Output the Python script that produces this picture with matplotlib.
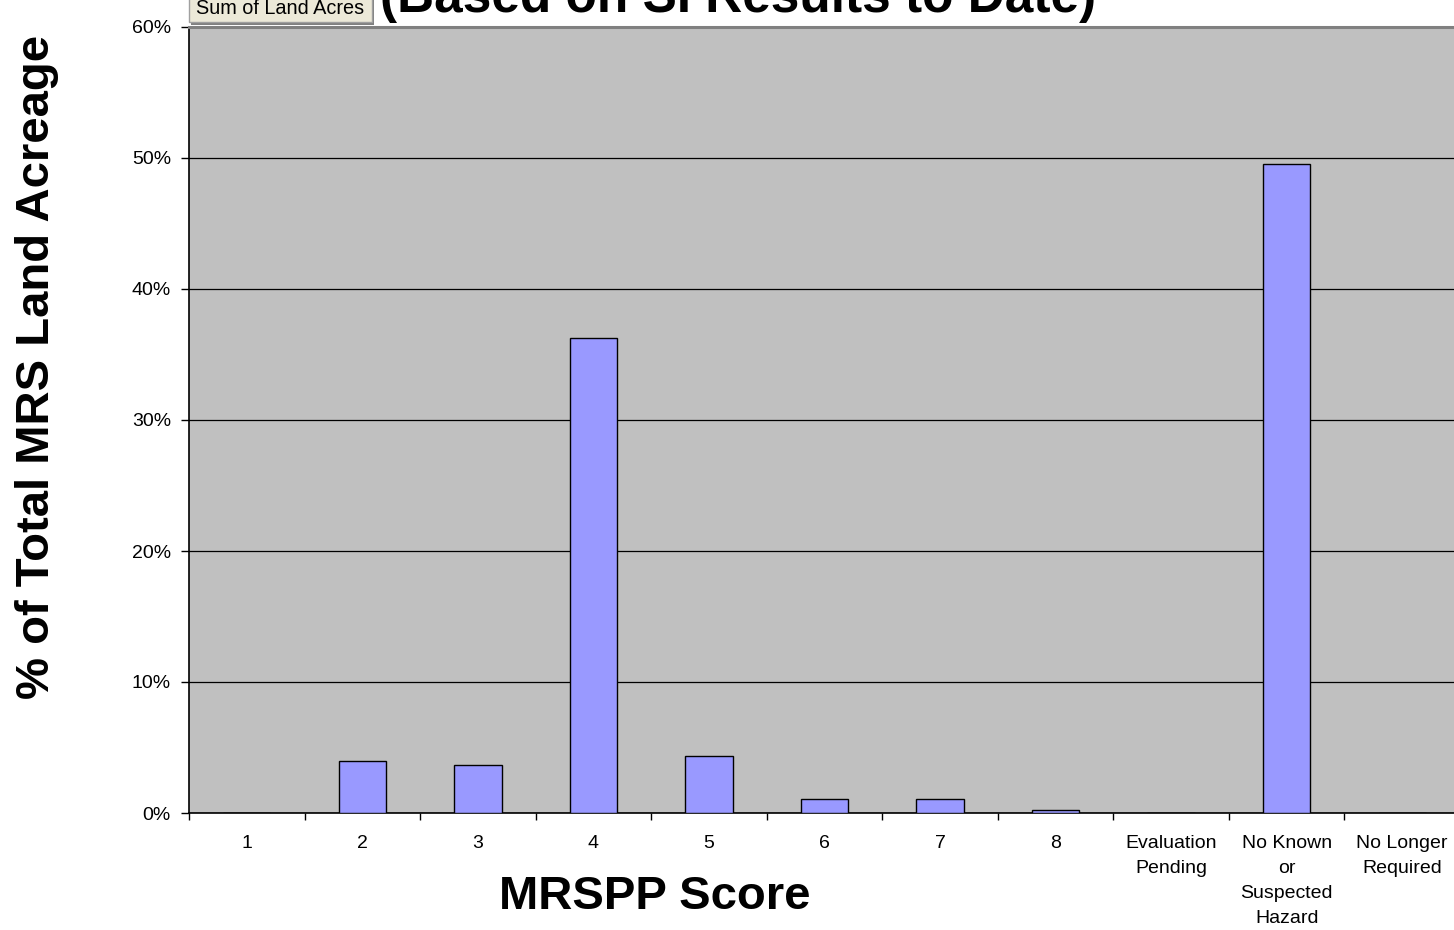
import matplotlib
matplotlib.use('Agg')
import matplotlib.pyplot as plt
from matplotlib.patches import Rectangle
from matplotlib.ticker import FixedLocator, FuncFormatter

plt.rcParams['font.family'] = ['Liberation Sans', 'DejaVu Sans']

# data
categories = ['1', '2', '3', '4', '5', '6', '7', '8',
              'Evaluation\nPending', 'No Known\nor\nSuspected\nHazard',
              'No Longer\nRequired']
pct_acreage = [0.0, 3.95, 3.65, 36.25, 4.35, 1.1, 1.1, 0.2, 0.0, 49.55, 0.0]
yticks = [0, 10, 20, 30, 40, 50, 60]

W, H = 1454, 930
fig = plt.figure(figsize=(W / 100, H / 100), dpi=100)
fig.patch.set_facecolor('white')

# plot area runs past the right edge of the picture, like the source
x0, x1, y0, y1 = 189, 1460, 27, 813
ax = fig.add_axes([x0 / W, 1 - y1 / H, (x1 - x0) / W, (y1 - y0) / H])
ax.set_facecolor('#C0C0C0')

pos = list(range(len(categories)))
ax.bar(pos, pct_acreage, width=0.41, color='#9999FF', edgecolor='black',
       linewidth=1.0, zorder=3)

ax.set_xlim(-0.5, len(categories) - 0.5)
ax.set_ylim(0, 60)

ax.yaxis.set_major_locator(FixedLocator(yticks))
ax.yaxis.set_major_formatter(FuncFormatter(lambda v, p: f'{v:.0f}%'))
ax.tick_params(axis='y', direction='out', length=6, width=1, pad=7,
               labelsize=14)
ax.grid(axis='y', color='black', linewidth=0.9, zorder=1)

# ticks on category boundaries, labels on centres
ax.xaxis.set_major_locator(FixedLocator([i - 0.5 for i in pos] + [len(pos) - 0.5]))
ax.xaxis.set_major_formatter(FuncFormatter(lambda v, p: ''))
ax.xaxis.set_minor_locator(FixedLocator(pos))
ax.set_xticklabels(categories, minor=True, fontsize=14, linespacing=1.6,
                   va='top')
ax.tick_params(axis='x', which='major', direction='out', length=5, width=1)
ax.tick_params(axis='x', which='minor', length=0, pad=16)

for s in ('left', 'bottom'):
    ax.spines[s].set_color('black')
    ax.spines[s].set_linewidth(1.2)
ax.spines['top'].set_color('#808080')
ax.spines['top'].set_linewidth(2.2)
ax.spines['right'].set_visible(False)

# axis titles
fig.text(37 / W, 1 - 367 / H, '% of Total MRS Land Acreage', rotation=90,
         fontsize=34, fontweight='bold', ha='center', va='center')
fig.text(655 / W, 1 - 897 / H, 'MRSPP Score', fontsize=34,
         fontweight='bold', ha='center', va='center')

# chart title, cut off at the top
fig.text(380 / W, 1 - 12 / H, '(Based on SI Results to Date)', fontsize=37,
         fontweight='bold', ha='left', va='baseline')

# pivot field button
fig.patches.append(Rectangle((191 / W, 1 - 25 / H), 183 / W, 25 / H,
                             transform=fig.transFigure, facecolor='#808080',
                             edgecolor='none', zorder=5))
fig.patches.append(Rectangle((189 / W, 1 - 22 / H), 183 / W, 24 / H,
                             transform=fig.transFigure, facecolor='#ECE9D8',
                             edgecolor='#A0A0A0', linewidth=1, zorder=6))
fig.text(280 / W, 1 - 14 / H, 'Sum of Land Acres', fontsize=14.3,
         ha='center', va='baseline', zorder=7)

fig.savefig('out.png', dpi=100, facecolor='white')
